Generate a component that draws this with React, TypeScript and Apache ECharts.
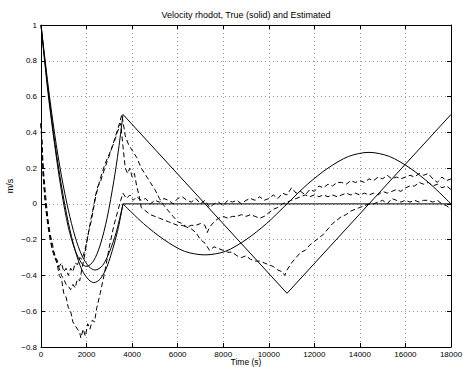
import React, { useEffect, useRef } from "react";
import * as echarts from "echarts";

const titleText = "Velocity rhodot, True (solid) and Estimated";
const xName = "Time (s)";
const yName = "m/s";

// True (solid) curves, initial transient 0..3600 s
const trueA_start: [number, number][] = [
  [0, 1.0], [300, 0.63], [600, 0.33], [900, 0.07], [1200, -0.13], [1500, -0.26],
  [1800, -0.335], [2000, -0.35], [2300, -0.32], [2600, -0.23], [2900, -0.08],
  [3200, 0.13], [3400, 0.3], [3600, 0.5],
];
const trueB_start: [number, number][] = [
  [0, 1.0], [300, 0.675], [600, 0.39], [900, 0.155], [1200, -0.035], [1500, -0.185],
  [1800, -0.29], [2100, -0.35], [2370, -0.37], [2700, -0.345], [3000, -0.27],
  [3300, -0.16], [3600, 0.0],
];
const trueC_start: [number, number][] = [
  [0, 1.0], [300, 0.65], [600, 0.35], [900, 0.1], [1200, -0.105], [1500, -0.26],
  [1800, -0.37], [2100, -0.425], [2320, -0.44], [2600, -0.42], [2900, -0.35],
  [3200, -0.23], [3400, -0.13], [3600, 0.0],
];
// True curves after 3600 s
const trueA_tri: [number, number][] = [[3600, 0.5], [10800, -0.5], [18000, 0.5]];
const trueB_zero: [number, number][] = [[3600, 0], [18000, 0]];
const trueC_sine: [number, number][] = [
  [3600, 0], [4500, -0.11], [5400, -0.2], [6300, -0.265], [7200, -0.285], [8100, -0.265],
  [9000, -0.2], [9900, -0.11], [10800, 0], [11700, 0.11], [12600, 0.2], [13500, 0.265],
  [14400, 0.288], [15300, 0.265], [16200, 0.2], [17100, 0.11], [18000, 0],
];

// Estimated (dashed) curves
const est1: [number, number][] = [
  [0, 0.45], [100, 0.2], [200, 0.05], [300, -0.08], [400, -0.17], [500, -0.22], [600, -0.3],
  [700, -0.33], [800, -0.4], [900, -0.42], [1000, -0.5], [1100, -0.52], [1200, -0.58],
  [1300, -0.6], [1400, -0.66], [1500, -0.68], [1600, -0.7], [1700, -0.72], [1750, -0.75],
  [1850, -0.7], [1950, -0.74], [2050, -0.67], [2150, -0.7], [2250, -0.65], [2350, -0.66],
  [2450, -0.58], [2600, -0.5], [2800, -0.38], [3000, -0.24], [3200, -0.12], [3350, -0.05],
  [3500, 0.02], [3600, 0.06], [3750, 0.03], [3900, 0.05], [4050, 0.02], [4200, 0.04],
  [4400, 0.02], [4600, 0.03], [4800, 0.0], [5000, 0.02], [5200, 0.01], [5400, 0.03],
  [5600, 0.02], [5800, 0.0], [6000, 0.03], [6200, 0.04], [6400, 0.02], [6600, 0.01],
  [6800, 0.03], [7000, 0.0], [7200, 0.02], [7400, -0.02], [7600, 0.0], [7800, 0.01],
  [8000, -0.01], [8200, 0.02], [8400, 0.01], [8600, 0.02], [8800, 0.0], [9000, 0.02],
  [9200, 0.03], [9400, 0.02], [9600, 0.04], [9800, 0.02], [10000, 0.03], [10200, 0.05],
  [10400, 0.03], [10600, 0.06], [10800, 0.05], [11000, 0.09], [11200, 0.06], [11400, 0.07],
  [11600, 0.05], [11800, 0.08], [12000, 0.07], [12200, 0.1], [12400, 0.09], [12600, 0.11],
  [12800, 0.1], [13000, 0.12], [13200, 0.12], [13400, 0.11], [13600, 0.13], [13800, 0.12],
  [14000, 0.13], [14200, 0.12], [14400, 0.14], [14600, 0.13], [14800, 0.15], [15000, 0.14],
  [15200, 0.16], [15400, 0.14], [15600, 0.15], [15800, 0.14], [16000, 0.15], [16200, 0.16],
  [16400, 0.15], [16600, 0.17], [16800, 0.16], [17000, 0.17], [17200, 0.14], [17400, 0.12],
  [17600, 0.15], [17800, 0.13], [18000, 0.14],
];
const est2: [number, number][] = [
  [0, 0.45], [100, 0.15], [200, 0.0], [300, -0.1], [400, -0.18], [500, -0.25], [600, -0.28],
  [700, -0.33], [800, -0.36], [900, -0.4], [1000, -0.42], [1100, -0.45], [1200, -0.46],
  [1300, -0.48], [1400, -0.45], [1500, -0.47], [1600, -0.42], [1700, -0.43], [1800, -0.36],
  [1900, -0.3], [2000, -0.22], [2100, -0.15], [2200, -0.08], [2300, -0.02], [2400, 0.05],
  [2500, 0.1], [2600, 0.12], [2800, 0.2], [3000, 0.27], [3200, 0.35], [3400, 0.43],
  [3550, 0.5], [3700, 0.38], [3850, 0.33], [4000, 0.3], [4200, 0.26], [4400, 0.2],
  [4600, 0.16], [4800, 0.12], [5000, 0.08], [5200, 0.03], [5400, -0.01], [5600, -0.04],
  [5800, -0.07], [6000, -0.1], [6200, -0.11], [6400, -0.13], [6600, -0.14], [6800, -0.16],
  [7000, -0.2], [7200, -0.22], [7400, -0.26], [7600, -0.24], [7800, -0.25], [8000, -0.26],
  [8200, -0.27], [8400, -0.27], [8600, -0.29], [8800, -0.3], [9000, -0.29], [9200, -0.31],
  [9400, -0.32], [9600, -0.32], [9800, -0.33], [10000, -0.34], [10200, -0.35], [10400, -0.37],
  [10600, -0.38], [10700, -0.4], [10800, -0.37], [11000, -0.33], [11200, -0.3], [11400, -0.27],
  [11600, -0.26], [11800, -0.23], [12000, -0.21], [12200, -0.19], [12400, -0.17], [12600, -0.14],
  [12800, -0.11], [13000, -0.09], [13200, -0.07], [13400, -0.06], [13600, -0.04], [13800, -0.03],
  [14000, -0.02], [14200, -0.01], [14400, 0.0], [14600, 0.0], [14800, 0.01], [15000, 0.02],
  [15200, 0.0], [15400, 0.03], [15600, 0.02], [15800, 0.01], [16000, 0.02], [16200, 0.01],
  [16400, 0.02], [16600, 0.01], [16800, 0.02], [17000, 0.02], [17200, 0.01], [17400, 0.02],
  [17600, 0.0], [17800, -0.01], [18000, -0.03],
];
const est3: [number, number][] = [
  [0, 0.45], [100, 0.15], [200, -0.02], [300, -0.12], [400, -0.2], [500, -0.26], [600, -0.3],
  [700, -0.31], [800, -0.35], [900, -0.33], [1000, -0.38], [1100, -0.36], [1200, -0.4],
  [1300, -0.36], [1400, -0.38], [1500, -0.33], [1600, -0.34], [1700, -0.3], [1800, -0.31],
  [1900, -0.27], [2000, -0.22], [2100, -0.15], [2200, -0.1], [2300, -0.03], [2400, 0.04],
  [2600, 0.14], [2800, 0.22], [3000, 0.28], [3200, 0.34], [3350, 0.4], [3500, 0.45],
  [3600, 0.32], [3700, 0.2], [3800, 0.17], [3900, 0.2], [4000, 0.15], [4100, 0.17],
  [4200, 0.1], [4300, 0.05], [4400, -0.02], [4600, -0.04], [4800, -0.06], [5000, -0.07],
  [5200, -0.08], [5400, -0.09], [5600, -0.1], [5800, -0.11], [6000, -0.12], [6200, -0.12],
  [6400, -0.13], [6600, -0.12], [6800, -0.12], [7000, -0.11], [7200, -0.12], [7300, -0.16],
  [7400, -0.13], [7600, -0.1], [7800, -0.08], [8000, -0.07], [8200, -0.08], [8400, -0.07],
  [8600, -0.07], [8800, -0.06], [9000, -0.07], [9200, -0.06], [9400, -0.07], [9600, -0.08],
  [9800, -0.07], [10000, -0.05], [10200, -0.03], [10400, -0.02], [10600, 0.0], [10800, 0.01],
  [11000, 0.02], [11200, 0.03], [11400, 0.04], [11600, 0.05], [11800, 0.04], [12000, 0.05],
  [12200, 0.04], [12400, 0.05], [12600, 0.04], [12800, 0.05], [13000, 0.04], [13200, 0.05],
  [13400, 0.06], [13600, 0.05], [13800, 0.06], [14000, 0.05], [14200, 0.06], [14400, 0.05],
  [14600, 0.06], [14800, 0.05], [15000, 0.07], [15200, 0.06], [15400, 0.07], [15600, 0.08],
  [15800, 0.07], [16000, 0.09], [16200, 0.1], [16400, 0.1], [16600, 0.12], [16800, 0.11],
  [17000, 0.12], [17200, 0.1], [17400, 0.11], [17600, 0.09], [17800, 0.1], [18000, 0.08],
];

const FONT = "Liberation Sans, Arial, Helvetica, sans-serif";

export default function App() {
  const ref = useRef<HTMLDivElement>(null);
  useEffect(() => {
    if (!ref.current) return;
    const chart = echarts.init(ref.current, undefined, { renderer: "svg" });
    const solid = (data: [number, number][], smooth: boolean | number) => ({
      type: "line",
      data,
      smooth,
      showSymbol: false,
      symbol: "none",
      lineStyle: { color: "#000", width: 1 },
      silent: true,
    });
    const dashed = (data: [number, number][]) => ({
      type: "line",
      data,
      showSymbol: false,
      symbol: "none",
      lineStyle: { color: "#000", width: 1, type: [5, 3] },
      silent: true,
    });
    const gridLine = { show: true, lineStyle: { color: "#999", width: 1, type: [1, 3] } };
    const boxAxis = {
      show: true,
      axisLine: { show: true, onZero: false, lineStyle: { color: "#000", width: 1 } },
      axisTick: { show: true, inside: true, length: 4, lineStyle: { color: "#000" } },
      axisLabel: { show: false },
      splitLine: { show: false },
    };
    chart.setOption({
      animation: false,
      backgroundColor: "#fff",
      title: {
        text: titleText,
        left: 246,
        textAlign: "center",
        top: 10,
        padding: 0,
        textStyle: { fontFamily: FONT, fontSize: 9, fontWeight: "normal", color: "#000" },
      },
      grid: {
        left: 41,
        right: 12,
        top: 25,
        bottom: 20,
        containLabel: false,
        outerBoundsMode: "none",
      },
      xAxis: [
        {
          type: "value",
          min: 0,
          max: 18000,
          interval: 2000,
          name: xName,
          nameLocation: "middle",
          nameGap: 10,
          nameMoveOverlap: false,
          nameTextStyle: {
            fontFamily: FONT,
            fontSize: 8.5,
            color: "#000",
            verticalAlign: "top",
            lineHeight: 9,
          },
          axisLine: { show: true, onZero: false, lineStyle: { color: "#000", width: 1 } },
          axisTick: { show: true, inside: true, length: 4, lineStyle: { color: "#000" } },
          axisLabel: {
            fontFamily: FONT,
            fontSize: 8,
            color: "#000",
            margin: 3,
            formatter: (v: number) => String(Math.round(v)),
          },
          splitLine: gridLine,
        },
        { type: "value", min: 0, max: 18000, interval: 2000, position: "top", ...boxAxis },
      ],
      yAxis: [
        {
          type: "value",
          min: -0.8,
          max: 1,
          interval: 0.2,
          name: yName,
          nameLocation: "middle",
          nameGap: 31,
          nameMoveOverlap: false,
          nameRotate: 90,
          nameTextStyle: { fontFamily: FONT, fontSize: 9, color: "#000", verticalAlign: "middle" },
          axisLine: { show: true, onZero: false, lineStyle: { color: "#000", width: 1 } },
          axisTick: { show: true, inside: true, length: 4, lineStyle: { color: "#000" } },
          axisLabel: {
            fontFamily: FONT,
            fontSize: 8,
            color: "#000",
            margin: 4,
            formatter: (v: number) => {
              const r = Math.round(v * 10) / 10;
              return r < 0 ? "\u2212" + String(-r) : String(r);
            },
          },
          splitLine: gridLine,
        },
        { type: "value", min: -0.8, max: 1, interval: 0.2, position: "right", ...boxAxis },
      ],
      series: [
        solid(trueA_start, 0.3),
        solid(trueB_start, 0.3),
        solid(trueC_start, 0.3),
        solid(trueA_tri, false),
        solid(trueB_zero, false),
        solid(trueC_sine, 0.3),
        dashed(est1),
        dashed(est2),
        dashed(est3),
      ],
    });
    return () => chart.dispose();
  }, []);
  return <div ref={ref} style={{ width: 463, height: 367, position: "absolute", left: 0, top: 0 }} />;
}
